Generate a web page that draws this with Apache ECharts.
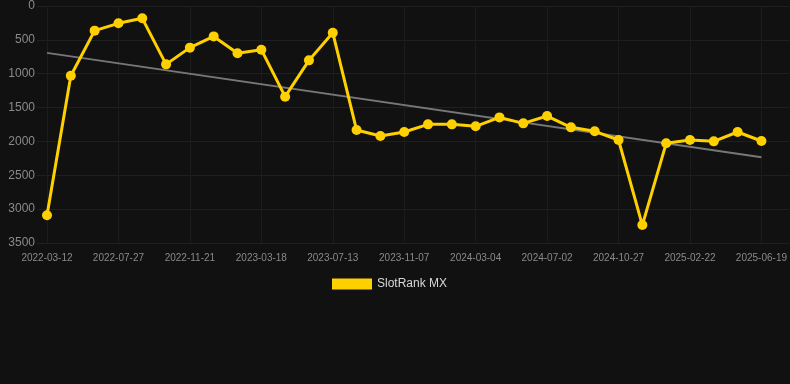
<!DOCTYPE html>
<html>
<head>
<meta charset="utf-8">
<script src="https://cdn.jsdelivr.net/npm/echarts@6/dist/echarts.min.js"></script>
<style>
  html, body { margin: 0; padding: 0; background: #111111; }
  #chart { width: 790px; height: 384px; }
</style>
</head>
<body>
<div id="chart"></div>
<script>
const dates = [
  '2022-03-12', '2022-04-27', '2022-06-11', '2022-07-27', '2022-09-04', '2022-10-13',
  '2022-11-21', '2022-12-30', '2023-02-07', '2023-03-18', '2023-04-26', '2023-06-04',
  '2023-07-13', '2023-08-21', '2023-09-29', '2023-11-07', '2023-12-16', '2024-01-25',
  '2024-03-04', '2024-04-13', '2024-05-23', '2024-07-02', '2024-08-09', '2024-09-18',
  '2024-10-27', '2024-12-05', '2025-01-13', '2025-02-22', '2025-04-02', '2025-05-11',
  '2025-06-19'
];
const ranks = [
  3090, 1030, 364, 256, 182, 862, 615, 449, 699, 645, 1339, 803, 394, 1832, 1920, 1861,
  1748, 1748, 1777, 1645, 1733, 1625, 1792, 1851, 1979, 3235, 2028, 1979, 1999, 1861, 1994
];
const labelIdx = [0, 3, 6, 9, 12, 15, 18, 21, 24, 27, 30];
const seriesName = 'SlotRank MX';

// least squares trend over the rank values
const n = ranks.length;
let sx = 0, sy = 0, sxy = 0, sxx = 0;
ranks.forEach((v, i) => { sx += i; sy += v; sxy += i * v; sxx += i * i; });
const slope = (n * sxy - sx * sy) / (n * sxx - sx * sx);
const icpt = (sy - slope * sx) / n;
const trend = [[0, icpt], [n - 1, icpt + slope * (n - 1)]];

const chart = echarts.init(document.getElementById('chart'));
chart.setOption({
  backgroundColor: '#111111',
  animation: false,
  grid: { left: 37, right: 0, top: 6, bottom: 141 },
  legend: {
    data: [seriesName],
    top: 273,
    left: 327,
    itemWidth: 40,
    itemHeight: 11,
    itemGap: 10,
    icon: 'rect',
    textStyle: { color: '#d8d8d8', fontSize: 12, fontFamily: 'Liberation Sans' }
  },
  xAxis: {
    type: 'value',
    min: -0.42,
    max: 31.17,
    axisLine: { show: false },
    axisTick: { show: false, customValues: labelIdx },
    axisLabel: {
      customValues: labelIdx,
      color: '#8a8a8a',
      fontSize: 10,
      margin: 10,
      fontFamily: 'Liberation Sans',
      formatter: (v) => dates[Math.round(v)]
    },
    splitLine: { show: true, lineStyle: { color: '#1c1c1c', width: 1 } }
  },
  yAxis: {
    type: 'value',
    inverse: true,
    min: 0,
    max: 3500,
    interval: 500,
    axisLine: { show: false },
    axisTick: { show: false },
    axisLabel: {
      color: '#8a8a8a',
      fontSize: 12,
      margin: 2,
      fontFamily: 'Liberation Sans',
      formatter: (v) => String(v)
    },
    splitLine: { lineStyle: { color: '#1f1f1f', width: 1 } }
  },
  series: [
    {
      name: seriesName,
      type: 'line',
      data: ranks.map((v, i) => [i, v]),
      symbol: 'circle',
      symbolSize: 10,
      itemStyle: { color: '#FFD000' },
      lineStyle: { color: '#FFD000', width: 3 },
      z: 3
    },
    {
      name: 'trend',
      type: 'line',
      data: trend,
      symbol: 'none',
      lineStyle: { color: '#777777', width: 2 },
      z: 2
    }
  ]
});
</script>
</body>
</html>
